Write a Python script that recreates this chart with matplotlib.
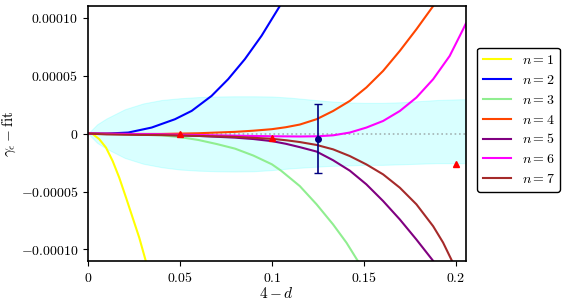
import numpy as np
import matplotlib
matplotlib.use("Agg")
import matplotlib.pyplot as plt

plt.rcParams['mathtext.fontset'] = 'cm'
plt.rcParams['font.family'] = ['DejaVu Serif']

# ---- data ----
x_n1 = [0.0, 0.0027, 0.0062, 0.0098, 0.0134, 0.017, 0.0207, 0.0243, 0.0279, 0.0312, 0.032]
y_n1 = [0.0, -0.5e-6, -4.9e-6, -1.21e-5, -2.36e-5, -3.8e-5, -5.53e-5, -7.26e-5, -8.99e-5,
        -1.086e-4, -1.13e-4]

x_n2 = [0.0, 0.01, 0.0219, 0.0346, 0.0473, 0.0564, 0.0672, 0.0762, 0.0853, 0.0944, 0.1043, 0.106]
y_n2 = [0.0, 0.0, 0.9e-6, 5.2e-6, 1.24e-5, 1.96e-5, 3.25e-5, 4.69e-5, 6.42e-5, 8.44e-5,
        1.10e-4, 1.14e-4]

x_n3 = [0.0, 0.02, 0.04, 0.05, 0.06, 0.07, 0.08, 0.09, 0.10, 0.105, 0.11, 0.1152, 0.1243,
        0.1333, 0.1406, 0.146, 0.15]
y_n3 = [0.0, -0.5e-6, -1.5e-6, -3.0e-6, -5.5e-6, -9.0e-6, -1.3e-5, -1.9e-5, -2.65e-5, -3.2e-5,
        -3.85e-5, -4.53e-5, -6.1e-5, -7.84e-5, -9.42e-5, -1.08e-4, -1.18e-4]

x_n4 = [0.0, 0.02, 0.04, 0.06, 0.08, 0.09, 0.10, 0.1076, 0.1152, 0.1243, 0.1333, 0.1424,
        0.1514, 0.1605, 0.1696, 0.1786, 0.1877, 0.19]
y_n4 = [0.0, -0.3e-6, -0.3e-6, 0.3e-6, 1.5e-6, 2.5e-6, 3.8e-6, 5.5e-6, 7.8e-6, 1.24e-5,
        1.95e-5, 2.82e-5, 3.98e-5, 5.41e-5, 7.14e-5, 9.0e-5, 1.10e-4, 1.16e-4]

x_n5 = [0.0, 0.02, 0.04, 0.06, 0.08, 0.09, 0.10, 0.1076, 0.1152, 0.1243, 0.1333, 0.1424,
        0.1514, 0.1605, 0.1696, 0.1786, 0.1873, 0.19]
y_n5 = [0.0, -0.3e-6, -1.0e-6, -2.0e-6, -3.5e-6, -4.7e-6, -6.5e-6, -8.8e-6, -1.17e-5, -1.55e-5,
        -2.3e-5, -3.2e-5, -4.38e-5, -5.82e-5, -7.41e-5, -9.14e-5, -1.09e-4, -1.15e-4]

x_n6 = [0.0, 0.02, 0.04, 0.06, 0.08, 0.10, 0.1152, 0.125, 0.1333, 0.1424, 0.1514, 0.1605,
        0.1696, 0.1786, 0.1877, 0.1967, 0.204, 0.2055]
y_n6 = [0.0, -0.3e-6, -0.7e-6, -1.2e-6, -1.8e-6, -2.3e-6, -2.5e-6, -2.3e-6, -1.5e-6, 0.9e-6,
        5.2e-6, 1.09e-5, 1.95e-5, 3.11e-5, 4.69e-5, 6.7e-5, 9.0e-5, 9.5e-5]

x_n7 = [0.0, 0.01, 0.02, 0.04, 0.06, 0.08, 0.10, 0.108, 0.1152, 0.1243, 0.1333, 0.1424,
        0.1514, 0.1605, 0.1696, 0.1786, 0.1877, 0.1931, 0.1977, 0.20]
y_n7 = [0.0, -0.7e-6, -1.0e-6, -1.3e-6, -2.0e-6, -2.8e-6, -4.5e-6, -5.8e-6, -7.3e-6, -9.8e-6,
        -1.36e-5, -1.94e-5, -2.66e-5, -3.52e-5, -4.67e-5, -6.1e-5, -7.99e-5, -9.4e-5,
        -1.09e-4, -1.17e-4]

band_x = [0.0, 0.005, 0.01, 0.02, 0.03, 0.04, 0.05, 0.06, 0.07, 0.08, 0.09, 0.10, 0.11,
          0.12, 0.13, 0.14, 0.15, 0.16, 0.17, 0.18, 0.19, 0.20, 0.205]
band_hi = [0.0, 0.8e-5, 1.3e-5, 2.1e-5, 2.6e-5, 2.9e-5, 3.05e-5, 3.15e-5, 3.2e-5, 3.22e-5,
           3.22e-5, 3.2e-5, 3.1e-5, 2.95e-5, 2.8e-5, 2.7e-5, 2.65e-5, 2.65e-5, 2.7e-5,
           2.8e-5, 2.9e-5, 2.95e-5, 2.97e-5]
band_lo = [0.0, -0.8e-5, -1.3e-5, -2.1e-5, -2.6e-5, -2.9e-5, -3.1e-5, -3.2e-5, -3.25e-5,
           -3.27e-5, -3.25e-5, -3.15e-5, -3.0e-5, -2.9e-5, -2.8e-5, -2.75e-5, -2.7e-5,
           -2.7e-5, -2.65e-5, -2.6e-5, -2.55e-5, -2.55e-5, -2.55e-5]

tri_x = [0.05, 0.10, 0.20]
tri_y = [-0.5e-6, -3.5e-6, -2.65e-5]

err_x = [0.125]
err_y = [-4.3e-6]
err_e = [3.0e-5]

labels = ['$n=1$', '$n=2$', '$n=3$', '$n=4$', '$n=5$', '$n=6$', '$n=7$']
colors = ['yellow', 'blue', 'lightgreen', 'orangered', 'purple', 'magenta', 'brown']

xticks = [0, 0.05, 0.1, 0.15, 0.2]
xticklabels = ['$0$', '$0.05$', '$0.1$', '$0.15$', '$0.2$']
yticks = [-1e-4, -5e-5, 0, 5e-5, 1e-4]
yticklabels = ['$-0.00010$', '$-0.00005$', '$0$', '$0.00005$', '$0.00010$']

# ---- plot ----
fig = plt.figure(figsize=(5.64, 3.05), dpi=100)
ax = fig.add_axes([0.156, 0.144, 0.670, 0.836])

ax.fill_between(band_x, band_lo, band_hi, color='cyan', alpha=0.15, lw=0.8)
ax.axhline(0, color='gray', ls=':', lw=1.2, alpha=0.6)

curves = [(x_n1, y_n1), (x_n2, y_n2), (x_n3, y_n3), (x_n4, y_n4),
          (x_n5, y_n5), (x_n6, y_n6), (x_n7, y_n7)]
for (xs, ys), c, lab in zip(curves, colors, labels):
    ax.plot(xs, ys, color=c, lw=1.5, label=lab, solid_joinstyle='round')

ax.plot(tri_x, tri_y, '^', color='red', ms=5, ls='none')
ax.errorbar(err_x, err_y, yerr=err_e, fmt='o', color='navy', ms=4, capsize=3, lw=1.2)

ax.set_xlim(0, 0.2055)
ax.set_ylim(-1.1e-4, 1.1e-4)
ax.set_xticks(xticks)
ax.set_xticklabels(xticklabels, fontsize=10)
ax.set_yticks(yticks)
ax.set_yticklabels(yticklabels, fontsize=10)
ax.set_xlabel('$4-d$', fontsize=11, labelpad=1)
ax.set_ylabel(r'$\gamma_\epsilon-\mathrm{fit}$', fontsize=11, labelpad=2)
for s in ax.spines.values():
    s.set_linewidth(1.2)

leg = ax.legend(loc='center left', bbox_to_anchor=(1.012, 0.555), fontsize=10,
                labelspacing=0.42, frameon=True, fancybox=True, framealpha=1,
                edgecolor='black')
leg.get_frame().set_linewidth(1.0)

fig.savefig('out.png', dpi=100)
